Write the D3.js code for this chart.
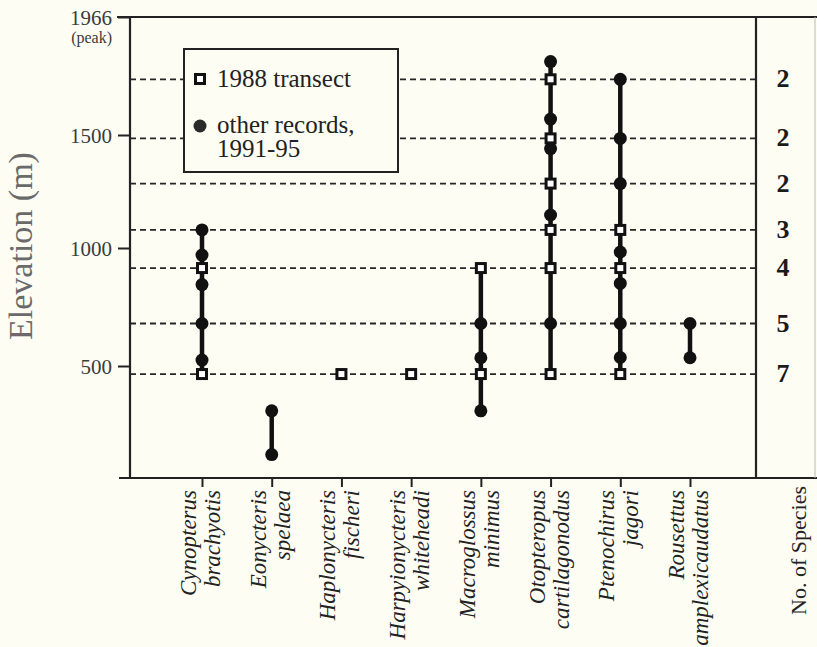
<!DOCTYPE html>
<html>
<head>
<meta charset="utf-8">
<script src="https://cdn.jsdelivr.net/npm/d3@7/dist/d3.min.js"></script>
<style>
  html, body { margin: 0; padding: 0; background: #fdfdf4; }
  svg { display: block; }
  .dash { stroke: #262626; stroke-width: 1.8; stroke-dasharray: 6,4; fill: none; }
  .frame { stroke: #222; stroke-width: 2.2; fill: none; }
</style>
</head>
<body>
<svg id="MyGraph" width="817" height="647"></svg>
<script>
// species (genus / epithet on two lines)
var genus   = ["Cynopterus", "Eonycteris", "Haplonycteris", "Harpyionycteris", "Macroglossus", "Otopteropus", "Ptenochirus", "Rousettus"];
var epithet = ["brachyotis", "spelaea", "fischeri", "whiteheadi", "minimus", "cartilagonodus", "jagori", "amplexicaudatus"];

// 1988 transect records (m)
var transect = [
  [915, 465],
  [],
  [465],
  [465],
  [915, 465],
  [1720, 1485, 1285, 1080, 915, 465],
  [1080, 915, 465],
  []
];

// other records 1991-95 (m)
var other = [
  [1080, 970, 845, 680, 525],
  [305, 115],
  [],
  [],
  [680, 535, 305],
  [1790, 1563, 1440, 1146, 680],
  [1720, 1485, 1285, 983, 850, 680, 536],
  [680, 535]
];

// transect levels and number of species at each
var levels = [1720, 1485, 1285, 1080, 915, 680, 465];
var counts = [2, 2, 2, 3, 4, 5, 7];

var yTicks = [500, 1000, 1500];
var peak = 1966;

var svg = d3.select("#MyGraph");
var serif = "'Liberation Serif', 'Times New Roman', serif";

var x0 = 130, xRight = 756, yBottom = 478;

// x position of each species column
var x = d3.scalePoint()
    .domain(genus)
    .range([202, 690]);

// elevation scale (original figure is not quite linear, so piecewise)
var y = d3.scaleLinear()
    .domain([0, 500, 1000, 1500, peak])
    .range([481, 366, 248, 135, 17]);

// dashed lines at each level
svg.selectAll("line.dash")
    .data(levels)
    .enter()
    .append("line")
    .attr("class", "dash")
    .attr("x1", x0)
    .attr("x2", xRight)
    .attr("y1", function(d){ return y(d); })
    .attr("y2", function(d){ return y(d); });

// species counts on the right
svg.selectAll("text.count")
    .data(levels)
    .enter()
    .append("text")
    .attr("class", "count")
    .attr("x", 783)
    .attr("y", function(d){ return y(d) + 8; })
    .attr("text-anchor", "middle")
    .style("font-family", serif)
    .style("font-weight", "bold")
    .style("font-size", "26px")
    .attr("fill", "#1a1a1a")
    .text(function(d, i){ return counts[i]; });

// legend box
var lg = svg.append("g");
lg.append("rect")
    .attr("x", 184).attr("y", 49)
    .attr("width", 214).attr("height", 123)
    .attr("fill", "#fdfdf4")
    .attr("stroke", "#222")
    .attr("stroke-width", 2);
lg.append("rect")
    .attr("x", 195.5).attr("y", 74.5)
    .attr("width", 9).attr("height", 9)
    .attr("fill", "#fff")
    .attr("stroke", "#111")
    .attr("stroke-width", 3);
lg.append("circle")
    .attr("cx", 200).attr("cy", 126).attr("r", 6.5)
    .attr("fill", "#2a2a2a");
lg.append("text").attr("x", 217).attr("y", 87).text("1988 transect");
lg.append("text").attr("x", 217).attr("y", 133).text("other records,");
lg.append("text").attr("x", 217).attr("y", 157).text("1991-95");
lg.selectAll("text")
    .style("font-family", serif)
    .style("font-size", "25px")
    .attr("fill", "#222");

// vertical range bars
genus.forEach(function(g, i){
  var all = transect[i].concat(other[i]);
  if (all.length < 2) return;
  var ext = d3.extent(all);
  svg.append("line")
      .attr("x1", x(g)).attr("x2", x(g))
      .attr("y1", y(ext[0])).attr("y2", y(ext[1]))
      .attr("stroke", "#111")
      .attr("stroke-width", 4.5);
});

// other records (filled circles)
genus.forEach(function(g, i){
  svg.selectAll("circle.o" + i)
      .data(other[i])
      .enter()
      .append("circle")
      .attr("cx", x(g))
      .attr("cy", function(d){ return y(d); })
      .attr("r", 6.5)
      .attr("fill", "#111");
});

// 1988 transect (open squares)
genus.forEach(function(g, i){
  svg.selectAll("rect.t" + i)
      .data(transect[i])
      .enter()
      .append("rect")
      .attr("x", x(g) - 4.5)
      .attr("y", function(d){ return y(d) - 4.5; })
      .attr("width", 9)
      .attr("height", 9)
      .attr("fill", "#fff")
      .attr("stroke", "#111")
      .attr("stroke-width", 3);
});

// frame: top line, left axis, bottom axis, right divider
svg.append("line").attr("class", "frame")
    .attr("x1", 117).attr("x2", 817).attr("y1", y(peak)).attr("y2", y(peak));
svg.append("line").attr("class", "frame")
    .attr("x1", x0).attr("x2", x0).attr("y1", y(peak)).attr("y2", yBottom);
svg.append("line").attr("class", "frame")
    .attr("x1", 119).attr("x2", 817).attr("y1", yBottom).attr("y2", yBottom);
svg.append("line").attr("class", "frame")
    .attr("x1", xRight).attr("x2", xRight).attr("y1", y(peak)).attr("y2", yBottom);
svg.append("line")
    .attr("x1", 815).attr("x2", 815).attr("y1", y(peak)).attr("y2", yBottom)
    .attr("stroke", "#bbb").attr("stroke-width", 1);

// Y axis ticks
var yAxis = svg.append("g")
    .attr("transform", "translate(" + x0 + ",0)")
    .call(d3.axisLeft(y)
        .tickValues(yTicks.concat([peak]))
        .tickFormat(d3.format("d"))
        .tickSize(12).tickPadding(6));
yAxis.select(".domain").remove();
yAxis.selectAll("line").attr("stroke", "#222").attr("stroke-width", 2);
yAxis.selectAll("text")
    .style("font-family", serif)
    .style("font-size", "21px")
    .attr("fill", "#3a3a3a")
    .attr("dy", "0.34em");

svg.append("text")
    .attr("x", 112).attr("y", 43)
    .attr("text-anchor", "end")
    .style("font-family", serif)
    .style("font-size", "16px")
    .attr("fill", "#3a3a3a")
    .text("(peak)");

svg.append("text")
    .attr("transform", "translate(32,246) rotate(-90)")
    .attr("text-anchor", "middle")
    .style("font-family", serif)
    .style("font-size", "34px")
    .attr("fill", "#6a6a6a")
    .text("Elevation (m)");

// X axis ticks
var xAxis = svg.append("g")
    .attr("transform", "translate(0," + yBottom + ")")
    .call(d3.axisBottom(x).tickSize(9).tickFormat(""));
xAxis.select(".domain").remove();
xAxis.selectAll("line").attr("stroke", "#222").attr("stroke-width", 2);

// species names, rotated
var lab = svg.selectAll("g.sp")
    .data(genus)
    .enter()
    .append("g")
    .attr("class", "sp");
lab.append("text")
    .attr("transform", function(d){ return "translate(" + (x(d) - 6) + ",490) rotate(-90)"; })
    .text(function(d){ return d; });
lab.append("text")
    .attr("transform", function(d){ return "translate(" + (x(d) + 18) + ",490) rotate(-90)"; })
    .text(function(d, i){ return epithet[i]; });
lab.selectAll("text")
    .attr("text-anchor", "end")
    .style("font-family", serif)
    .style("font-style", "italic")
    .style("font-size", "23px")
    .attr("fill", "#222");

svg.append("text")
    .attr("transform", "translate(806,486) rotate(-90)")
    .attr("text-anchor", "end")
    .style("font-family", serif)
    .style("font-size", "22px")
    .attr("fill", "#222")
    .text("No. of Species");
</script>
</body>
</html>
